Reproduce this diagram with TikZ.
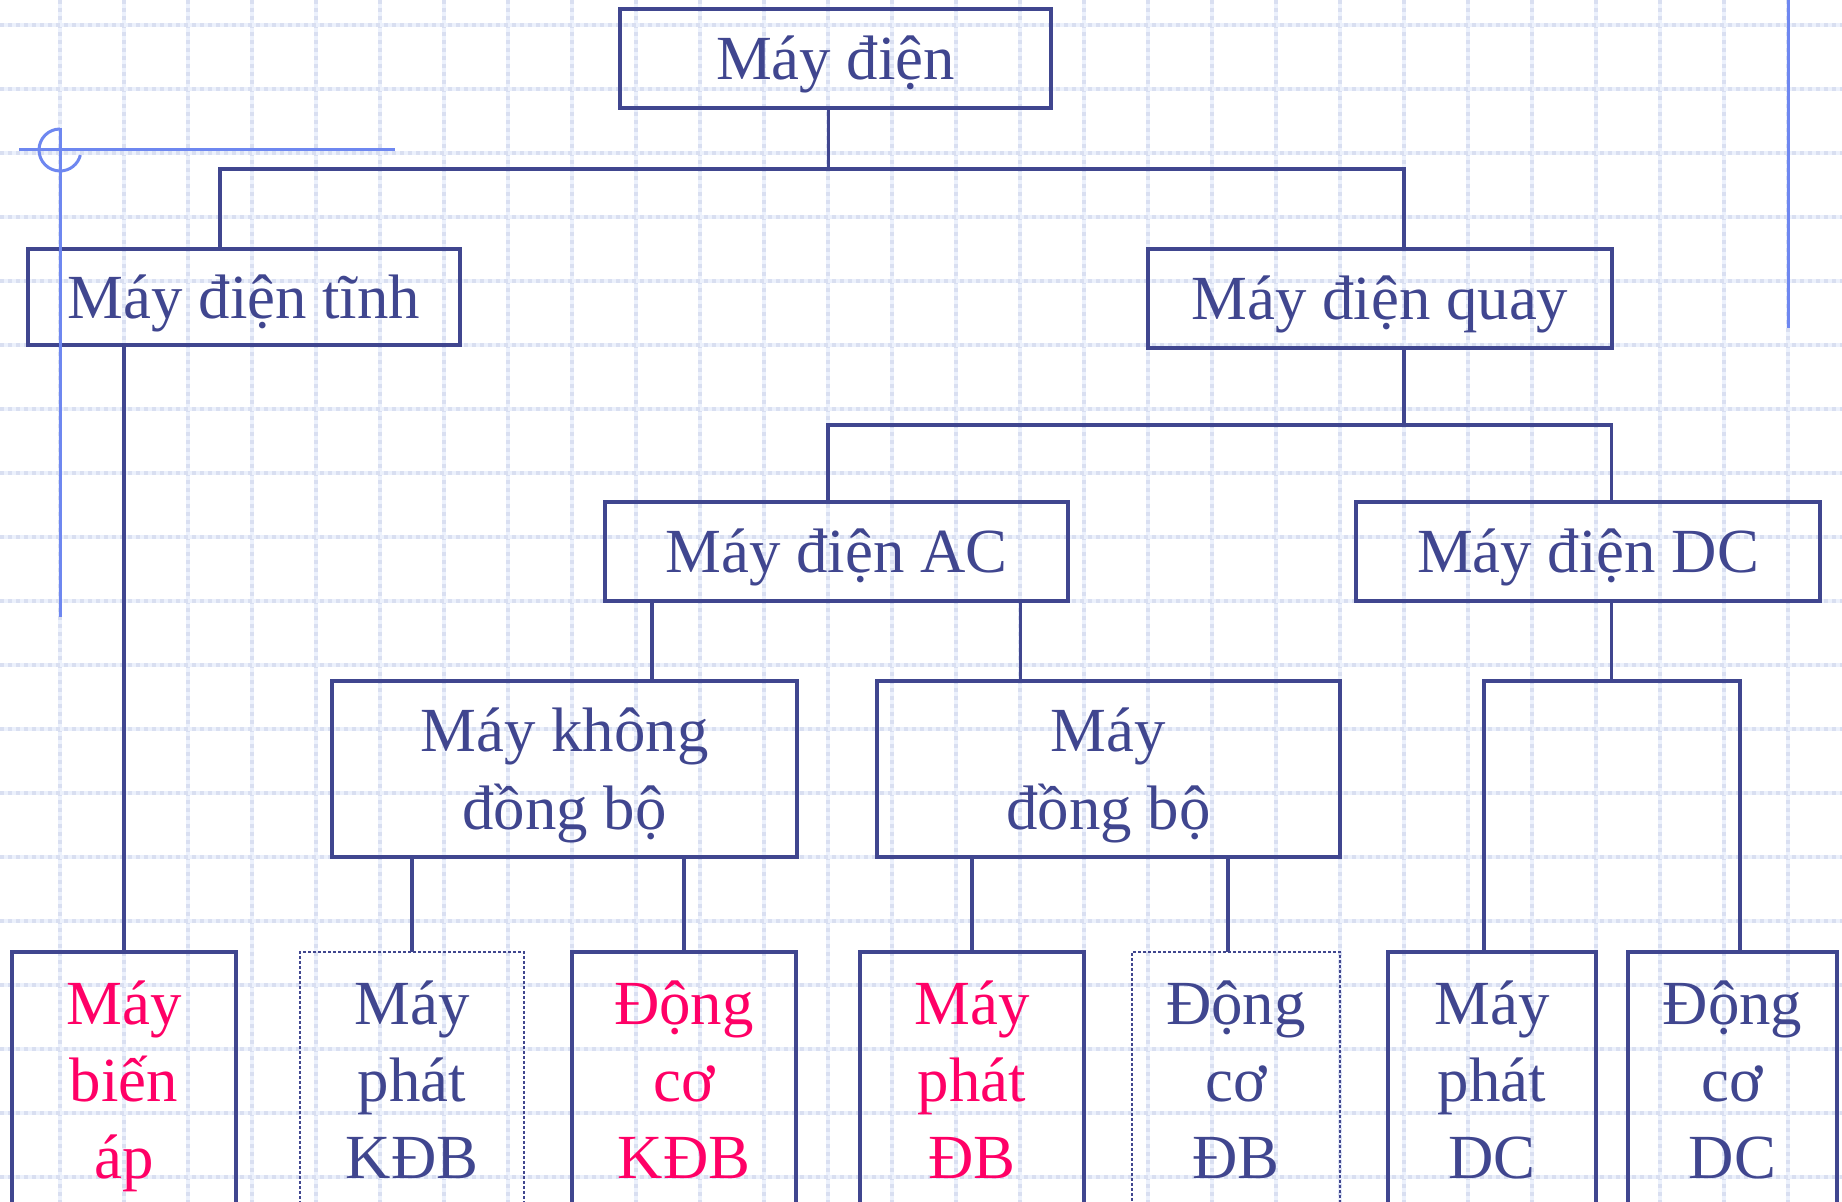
\documentclass[tikz,border=0pt]{standalone}
\usepackage{fontspec}
\setmainfont{Liberation Serif}
\definecolor{navy}{RGB}{64,70,143}
\definecolor{hot}{RGB}{255,0,102}
\definecolor{deco}{RGB}{110,135,240}
\definecolor{gridA}{RGB}{236,241,252}
\definecolor{gridB}{RGB}{217,223,241}
\begin{document}
\begin{tikzpicture}[x=0.5pt,y=-0.5pt,
  bx/.style={draw=navy,line width=1.6pt,rectangle,inner sep=0pt,outer sep=0pt},
  dotbx/.style={draw=navy,line width=1.4pt,dash pattern=on 1.3pt off 1.2pt,rectangle,inner sep=0pt,outer sep=0pt},
  conn/.style={draw=navy,line width=1.6pt},
  decoline/.style={draw=deco,line width=1.5pt},
  gl/.style={draw=gridA,line width=1.7pt},
  gd/.style={draw=gridB,line width=1.7pt,dash pattern=on 2pt off 2pt},
  txt/.style={inner sep=0pt,anchor=base,font=\fontsize{31.4pt}{38.5pt}\selectfont,text=navy},
  ptxt/.style={txt,text=hot}]
\useasboundingbox (0,0) rectangle (1842,1202);
\clip (0,0) rectangle (1842,1202);
\fill[white] (0,0) rectangle (1842,1202);
% grid
\foreach \x in {60,124,...,1790} {\draw[gl] (\x,0) -- (\x,1202); \draw[gd] (\x,0) -- (\x,1202);}
\foreach \y in {25,89,...,1180} {\draw[gl] (0,\y) -- (1842,\y); \draw[gd] (0,\y) -- (1842,\y);}
% boxes
\node[bx,minimum width=215.5pt,minimum height=49.5pt] (root) at (835.5,58.5) {};
\node[bx,minimum width=216pt,minimum height=48pt] (tinh) at (244,297) {};
\node[bx,minimum width=232pt,minimum height=49.5pt] (quay) at (1380,298.5) {};
\node[bx,minimum width=231.5pt,minimum height=49.5pt] (ac) at (836.5,551.5) {};
\node[bx,minimum width=232pt,minimum height=49.5pt] (dc) at (1588,551.5) {};
\node[bx,minimum width=232.5pt,minimum height=88pt] (kdb) at (564.5,769) {};
\node[bx,minimum width=231.5pt,minimum height=88pt] (db) at (1108.5,769) {};
\node[bx,minimum width=112pt,minimum height=144pt] (mba) at (124,1096) {};
\node[dotbx,minimum width=112pt,minimum height=144pt] (mpk) at (412,1096) {};
\node[bx,minimum width=112pt,minimum height=144pt] (dck) at (684,1096) {};
\node[bx,minimum width=112pt,minimum height=144pt] (mpd) at (972,1096) {};
\node[dotbx,minimum width=104pt,minimum height=144pt] (dcd) at (1236,1096) {};
\node[bx,minimum width=104pt,minimum height=144pt] (mpdc) at (1492,1096) {};
\node[bx,minimum width=104.5pt,minimum height=144pt] (dcdc) at (1732.5,1096) {};
% connector coordinates
\coordinate (h1) at (828.5,169);
\coordinate (h1l) at (220,169);
\coordinate (h1r) at (1404,169);
\coordinate (h2) at (1404,425);
\coordinate (h2l) at (828,425);
\coordinate (h2r) at (1611.5,425);
\coordinate (a1) at (652,0);
\coordinate (a2) at (1020.5,0);
\coordinate (d0) at (1611.5,681);
\coordinate (d1) at (1484,681);
\coordinate (d2) at (1740,681);
\coordinate (c1) at (1228,0);
% connectors
\draw[conn] (h1 |- root.south) -- (h1);
\draw[conn] (h1l |- tinh.north) -- (h1l) -- (h1r) -- (h1r |- quay.north);
\draw[conn] (h2 |- quay.south) -- (h2);
\draw[conn] (h2l |- ac.north) -- (h2l) -- (h2r) -- (h2r |- dc.north);
\draw[conn] (a1 |- ac.south) -- (a1 |- kdb.north);
\draw[conn] (a2 |- ac.south) -- (a2 |- db.north);
\draw[conn] (d0 |- dc.south) -- (d0);
\draw[conn] (d1 |- mpdc.north) -- (d1) -- (d2) -- (d2 |- dcdc.north);
\draw[conn] (mba.north |- tinh.south) -- (mba.north);
\draw[conn] (mpk.north |- kdb.south) -- (mpk.north);
\draw[conn] (dck.north |- kdb.south) -- (dck.north);
\draw[conn] (mpd.north |- db.south) -- (mpd.north);
\draw[conn] (c1 |- db.south) -- (c1 |- dcd.north);
% texts
\node[txt] (troot) at (835.5,80) {Máy điện};
\node[txt] (ttinh) at (244,319) {Máy điện tĩnh};
\node[txt] (tquay) at (1380,320) {Máy điện quay};
\node[txt] (tac) at (836.5,573) {Máy điện AC};
\node[txt] (tdc) at (1588,573) {Máy điện DC};
\node[txt] (tkdb1) at (564.5,752) {Máy không};
\node[txt] (tkdb2) at (564.5,829) {đồng bộ};
\node[txt] (tdb1) at (1108.5,752) {Máy};
\node[txt] (tdb2) at (1108.5,829) {đồng bộ};
\node[ptxt] (tmba1) at (124,1024) {Máy};
\node[ptxt] (tmba2) at (124,1101) {biến};
\node[ptxt] (tmba3) at (124,1178) {áp};
\node[txt] (tmpk1) at (412,1024) {Máy};
\node[txt] (tmpk2) at (412,1101) {phát};
\node[txt] (tmpk3) at (412,1178) {KĐB};
\node[ptxt] (tdck1) at (684,1024) {Động};
\node[ptxt] (tdck2) at (684,1101) {cơ};
\node[ptxt] (tdck3) at (684,1178) {KĐB};
\node[ptxt] (tmpd1) at (972,1024) {Máy};
\node[ptxt] (tmpd2) at (972,1101) {phát};
\node[ptxt] (tmpd3) at (972,1178) {ĐB};
\node[txt] (tdcd1) at (1236,1024) {Động};
\node[txt] (tdcd2) at (1236,1101) {cơ};
\node[txt] (tdcd3) at (1236,1178) {ĐB};
\node[txt] (tmpdc1) at (1492,1024) {Máy};
\node[txt] (tmpdc2) at (1492,1101) {phát};
\node[txt] (tmpdc3) at (1492,1178) {DC};
\node[txt] (tdcdc1) at (1732.5,1024) {Động};
\node[txt] (tdcdc2) at (1732.5,1101) {cơ};
\node[txt] (tdcdc3) at (1732.5,1178) {DC};
% decorative marks
\draw[decoline] (19,150) -- (395,150);
\draw[decoline] (60,128) -- (60,617);
\draw[decoline] (60,129) arc[start angle=90,end angle=346,radius=10.5pt];
\draw[decoline] (1788,0) -- (1788,328);
\end{tikzpicture}
\end{document}
